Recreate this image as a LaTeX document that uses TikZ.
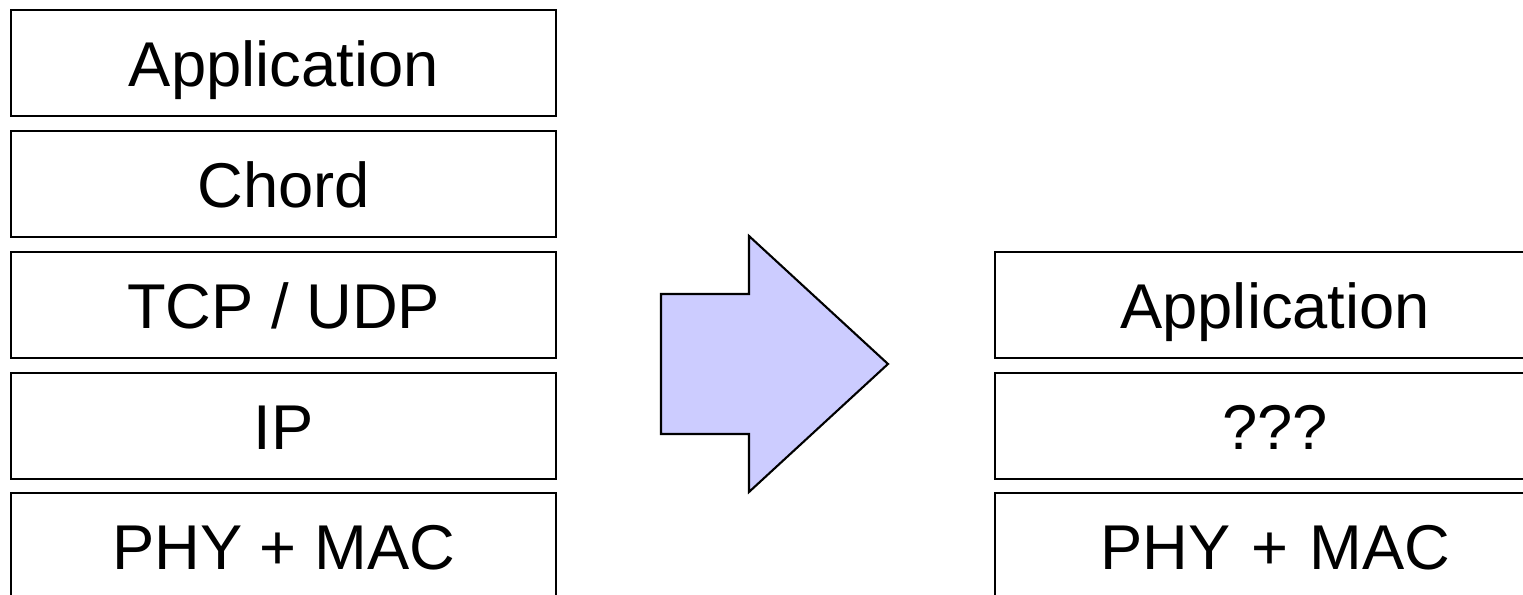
\documentclass[tikz,border=0pt]{standalone}
\usepackage{fontspec}
\setmainfont{Liberation Sans}
\definecolor{arrowfill}{RGB}{204,204,255}
\begin{document}
\begin{tikzpicture}[x=0.01cm,y=-0.01cm,
  layer/.style={draw=black,line width=0.6pt,fill=white,minimum width=5.45cm,minimum height=1.06cm,inner sep=0pt,text height=0.46cm,text depth=0cm,anchor=north west,font=\fontsize{18}{22}\selectfont},
  rlayer/.style={layer,minimum width=5.6cm,text width=5.3cm,align=center}]
\useasboundingbox (0,0) rectangle (1523,595);
\clip (0,0) rectangle (1523,595);
\node[layer] (app) at (10,9) {Application};
\node[layer] (chord) at (10,130) {Chord};
\node[layer] (tcp) at (10,251) {TCP / UDP};
\node[layer] (ip) at (10,372) {IP};
\node[layer] (phy) at (10,492) {PHY + MAC};
\node[rlayer] (rapp) at (994,251) {Application};
\node[rlayer] (rq) at (994,372) {???};
\node[rlayer] (rphy) at (994,492) {PHY + MAC};
\filldraw[fill=arrowfill,draw=black,line width=0.6pt,line join=miter]
  (661,294) -- (749,294) -- (749,236) -- (888,364) -- (749,492) -- (749,434) -- (661,434) -- cycle;
\end{tikzpicture}
\end{document}
